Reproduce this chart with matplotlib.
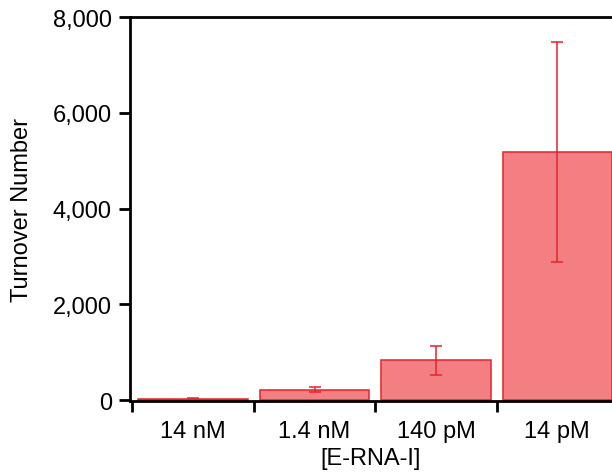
import matplotlib
matplotlib.use("Agg")
import matplotlib.pyplot as plt
from matplotlib.ticker import FuncFormatter, FixedLocator

plt.rcParams['font.family'] = ['Liberation Sans', 'DejaVu Sans']

# data
categories = ["14 nM", "1.4 nM", "140 pM", "14 pM"]
turnover = [20, 215, 830, 5180]
turnover_err = [25, 50, 300, 2300]

BAR_FILL = "#F47F82"
BAR_EDGE = "#E8222C"

fig = plt.figure(figsize=(6.12, 4.77), dpi=100)
ax = fig.add_axes([130 / 612, 1 - 402 / 477, 1 - 130 / 612, (402 - 18) / 477])

x = list(range(len(categories)))
ax.bar(x, turnover, width=0.9, color=BAR_FILL, edgecolor=BAR_EDGE, linewidth=1.1,
       yerr=turnover_err, error_kw=dict(ecolor=BAR_EDGE, elinewidth=1.1, capsize=4.5, capthick=1.1))

ax.set_xlim(-0.52, 3.45)
ax.set_ylim(-20, 8000)

# y axis
ax.set_yticks([0, 2000, 4000, 6000, 8000])
ax.yaxis.set_major_formatter(FuncFormatter(lambda v, p: f"{int(v):,}"))
ax.tick_params(axis='y', direction='out', length=8, width=2, labelsize=17, pad=5)

# x axis: ticks at category boundaries, labels at centres
ax.xaxis.set_major_locator(FixedLocator([-0.5, 0.5, 1.5, 2.5, 3.5]))
ax.xaxis.set_minor_locator(FixedLocator(x))
ax.set_xticklabels([])
ax.set_xticklabels(categories, minor=True)
ax.tick_params(axis='x', which='major', direction='out', length=8, width=2)
ax.tick_params(axis='x', which='minor', length=0, labelsize=17, pad=14)

for side in ['left', 'bottom', 'top']:
    ax.spines[side].set_linewidth(2)
ax.spines['right'].set_visible(False)

ax.set_ylabel("Turnover Number", fontsize=17, labelpad=14)
ax.set_xlabel("[E-RNA-I]", fontsize=17, labelpad=3)

fig.savefig("out.png", dpi=100)
